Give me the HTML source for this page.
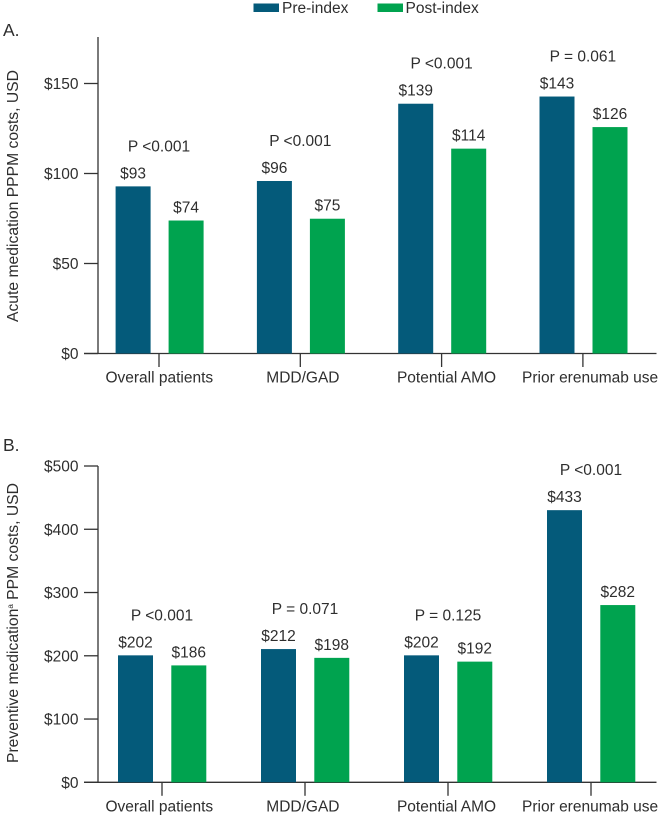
<!DOCTYPE html>
<html lang="en">
<head>
<meta charset="utf-8">
<title>Medication costs pre-index and post-index</title>
<style>
  html, body { margin: 0; padding: 0; background: #fff; }
  body { width: 660px; height: 817px; overflow: hidden; }
  svg { display: block; }
  text { font-family: "Liberation Sans", Arial, sans-serif; font-size: 15.5px; fill: #2e2e2e; }
</style>
</head>
<body>
<svg id="chart" xmlns="http://www.w3.org/2000/svg" width="660" height="817" viewBox="0 0 660 817">
  <rect x="253.5" y="3.5" width="25.5" height="8.5" fill="#045a7a"/>
  <text x="282" y="13">Pre-index</text>
  <rect x="377.5" y="3.5" width="25.5" height="8.5" fill="#00a34f"/>
  <text x="405.5" y="13">Post-index</text>
  <text x="3" y="36" style="font-size:17.5px">A.</text>
  <text x="3" y="451" style="font-size:17.5px">B.</text>
  <text transform="translate(18,322) rotate(-90)" style="font-size:15.7px">Acute medication PPPM costs, USD</text>
  <text transform="translate(18,763) rotate(-90)" style="font-size:15.7px">Preventive medication<tspan dy="-5" style="font-size:8px">a</tspan><tspan dy="5"> PPM costs, USD</tspan></text>
</svg>
<script>
const categories = ["Overall patients", "MDD/GAD", "Potential AMO", "Prior erenumab use"];

const panelAPre = [93, 96, 139, 143];
const panelAPost = [74, 75, 114, 126];
const panelAPValues = ["P <0.001", "P <0.001", "P <0.001", "P = 0.061"];
const panelATicks = [0, 50, 100, 150];

const panelBPre = [202, 212, 202, 433];
const panelBPost = [186, 198, 192, 282];
const panelBPValues = ["P <0.001", "P = 0.071", "P = 0.125", "P <0.001"];
const panelBTicks = [0, 100, 200, 300, 400, 500];

const svg = document.getElementById('chart');
const NS = 'http://www.w3.org/2000/svg';
const AXIS_COLOR = '#333333';
const PRE_COLOR = '#045a7a';
const POST_COLOR = '#00a34f';

function shape(tag, attrs, content) {
  const el = document.createElementNS(NS, tag);
  for (const key in attrs) el.setAttribute(key, attrs[key]);
  if (content !== undefined) el.textContent = content;
  svg.appendChild(el);
  return el;
}

function drawPanel(cfg) {
  const tickY = v => cfg.y0 - v * cfg.tickScale;
  const barY = v => cfg.y0 - v * cfg.barScale;
  const catX = i => cfg.x0 + i * cfg.step;
  const labelX = i => 159.3 + i * 143.6;
  const money = v => '$' + v;

  const yAxis = shape('line', { x1: 98, x2: 98, y1: cfg.top, y2: cfg.y0, stroke: AXIS_COLOR, 'stroke-width': 1.3 });
  
  

  const xAxis = shape('line', { x1: 84, x2: 656.5, y1: cfg.y0, y2: cfg.y0, stroke: AXIS_COLOR, 'stroke-width': 1.3 });
  
  

  cfg.ticks.forEach(v => {
    const mark = shape('line', { x1: 84, x2: 98, y1: tickY(v), y2: tickY(v), stroke: AXIS_COLOR, 'stroke-width': 1.3 });
    
    
    const label = shape('text', { x: 78.5, y: tickY(v) + 5.5, 'text-anchor': 'end' }, money(v));
    
    
  });

  categories.forEach((name, i) => {
    const cx = catX(i);
    const mark = shape('line', { x1: cx, x2: cx, y1: cfg.y0, y2: cfg.y0 + 13.5, stroke: AXIS_COLOR, 'stroke-width': 1.3 });
    
    
    const label = shape('text', { x: labelX(i), y: cfg.y0 + 29, 'text-anchor': 'middle' }, name);
    
    

    const preLeft = cx + cfg.preOffset;
    const preTop = barY(cfg.pre[i]);
    const pre = shape('rect', { x: preLeft, y: preTop, width: 35, height: cfg.y0 - preTop, fill: PRE_COLOR });
    
    
    const preLabel = shape('text', { x: preLeft + 17.5, y: preTop - 8, 'text-anchor': 'middle' }, money(cfg.pre[i]));
    
    

    const postLeft = cx + cfg.postOffset;
    const postTop = barY(cfg.post[i]);
    const post = shape('rect', { x: postLeft, y: postTop, width: 35, height: cfg.y0 - postTop, fill: POST_COLOR });
    
    
    const postLabel = shape('text', { x: postLeft + 17.5, y: postTop - 8, 'text-anchor': 'middle' }, money(cfg.post[i]));
    
    

    const pLabel = shape('text', { x: cx, y: preTop - 35, 'text-anchor': 'middle' }, cfg.p[i]);
    
    
  });
}

drawPanel({ id: 'panel-a', y0: 353.5, top: 37, tickScale: 1.8, barScale: 1.797, x0: 159, step: 141.3, preOffset: -43.4, postOffset: 9.6,
  ticks: panelATicks, pre: panelAPre, post: panelAPost, p: panelAPValues });
drawPanel({ id: 'panel-b', y0: 782.3, top: 466, tickScale: 0.6326, barScale: 0.6285, x0: 162, step: 143, preOffset: -44, postOffset: 9.3,
  ticks: panelBTicks, pre: panelBPre, post: panelBPost, p: panelBPValues });
</script>
</body>
</html>
